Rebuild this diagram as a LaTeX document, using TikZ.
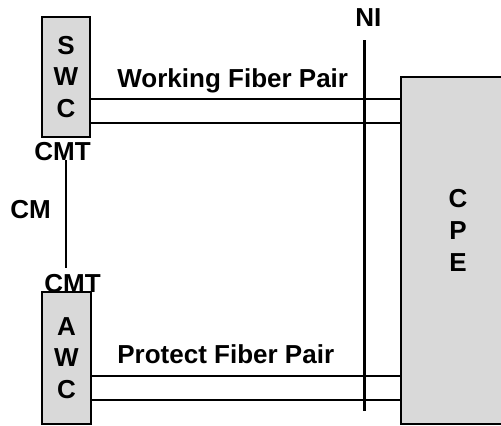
\documentclass[tikz,border=0pt]{standalone}
\usepackage{fontspec}
\setmainfont{Liberation Sans}
\usepackage{tikz}
\usetikzlibrary{
  positioning,
  calc
}
\definecolor{apsBox}{HTML}{D9D9D9}
\tikzset{
  apsnode/.style={
    draw, thick, fill=apsBox, inner sep=0pt, align=center,
    font=\fontsize{13}{15.75}\selectfont\bfseries, line width=1.3pt
  },
  swbox/.style={apsnode, minimum width=24pt, minimum height=60pt},
  awbox/.style={apsnode, minimum width=24.5pt, minimum height=66pt},
  cpebox/.style={apsnode, minimum width=57pt, minimum height=173.5pt},
  tag/.style={font=\fontsize{13}{15.75}\selectfont\bfseries, inner sep=0pt, anchor=base west},
  fiber/.style={line width=1.1pt},
  cmlink/.style={line width=1.1pt}
}
\begin{document}
\begin{tikzpicture}[x=0.5pt, y=-0.5pt]
  \useasboundingbox (0,0) rectangle (501,425);
  % switches and customer equipment
  \node[swbox] (SWC) at (66,77) {S\\W\\C};
  \node[awbox] (AWC) at (66.5,358) {A\\W\\C};
  \node[cpebox] (CPE) at (458,250.5) {};
  \node[tag, anchor=center, align=center, font=\fontsize{13}{16}\selectfont\bfseries] (cpetext) at ($(CPE.center)+(0,-20)$) {C\\P\\E};

  % labels
  \node[tag] (cmtA) at (34,160) {CMT};
  \node[tag] (cmtB) at (44,292) {CMT};
  \node[tag] (cm) at (10,218) {CM};
  \node[tag] (ni) at (355,26) {NI};
  \node[tag] (wlbl) at (117,87) {Working Fiber Pair};
  \node[tag] (plbl) at (117,363) {Protect Fiber Pair};

  % fiber pairs
  \coordinate (w1) at ($(SWC.east)+(0,22)$);
  \coordinate (w2) at ($(SWC.east)+(0,46)$);
  \coordinate (p1) at ($(AWC.east)+(0,18)$);
  \coordinate (p2) at ($(AWC.east)+(0,42)$);
  \draw[fiber] (w1) -- (w1 -| CPE.west);
  \draw[fiber] (w2) -- (w2 -| CPE.west);
  \draw[fiber] (p1) -- (p1 -| CPE.west);
  \draw[fiber] (p2) -- (p2 -| CPE.west);

  % CM link between the two CMTs
  \draw[cmlink] (SWC |- cmtA.base) -- ($(SWC |- cmtB.north)+(0,-5)$);

  % network interface line
  \coordinate (nitop) at ($(ni.base)+(-4,14)$);
  \coordinate (nibot) at (nitop |- 0,411);
  \draw[fiber] (nitop) -- (nibot);
\end{tikzpicture}
\end{document}
